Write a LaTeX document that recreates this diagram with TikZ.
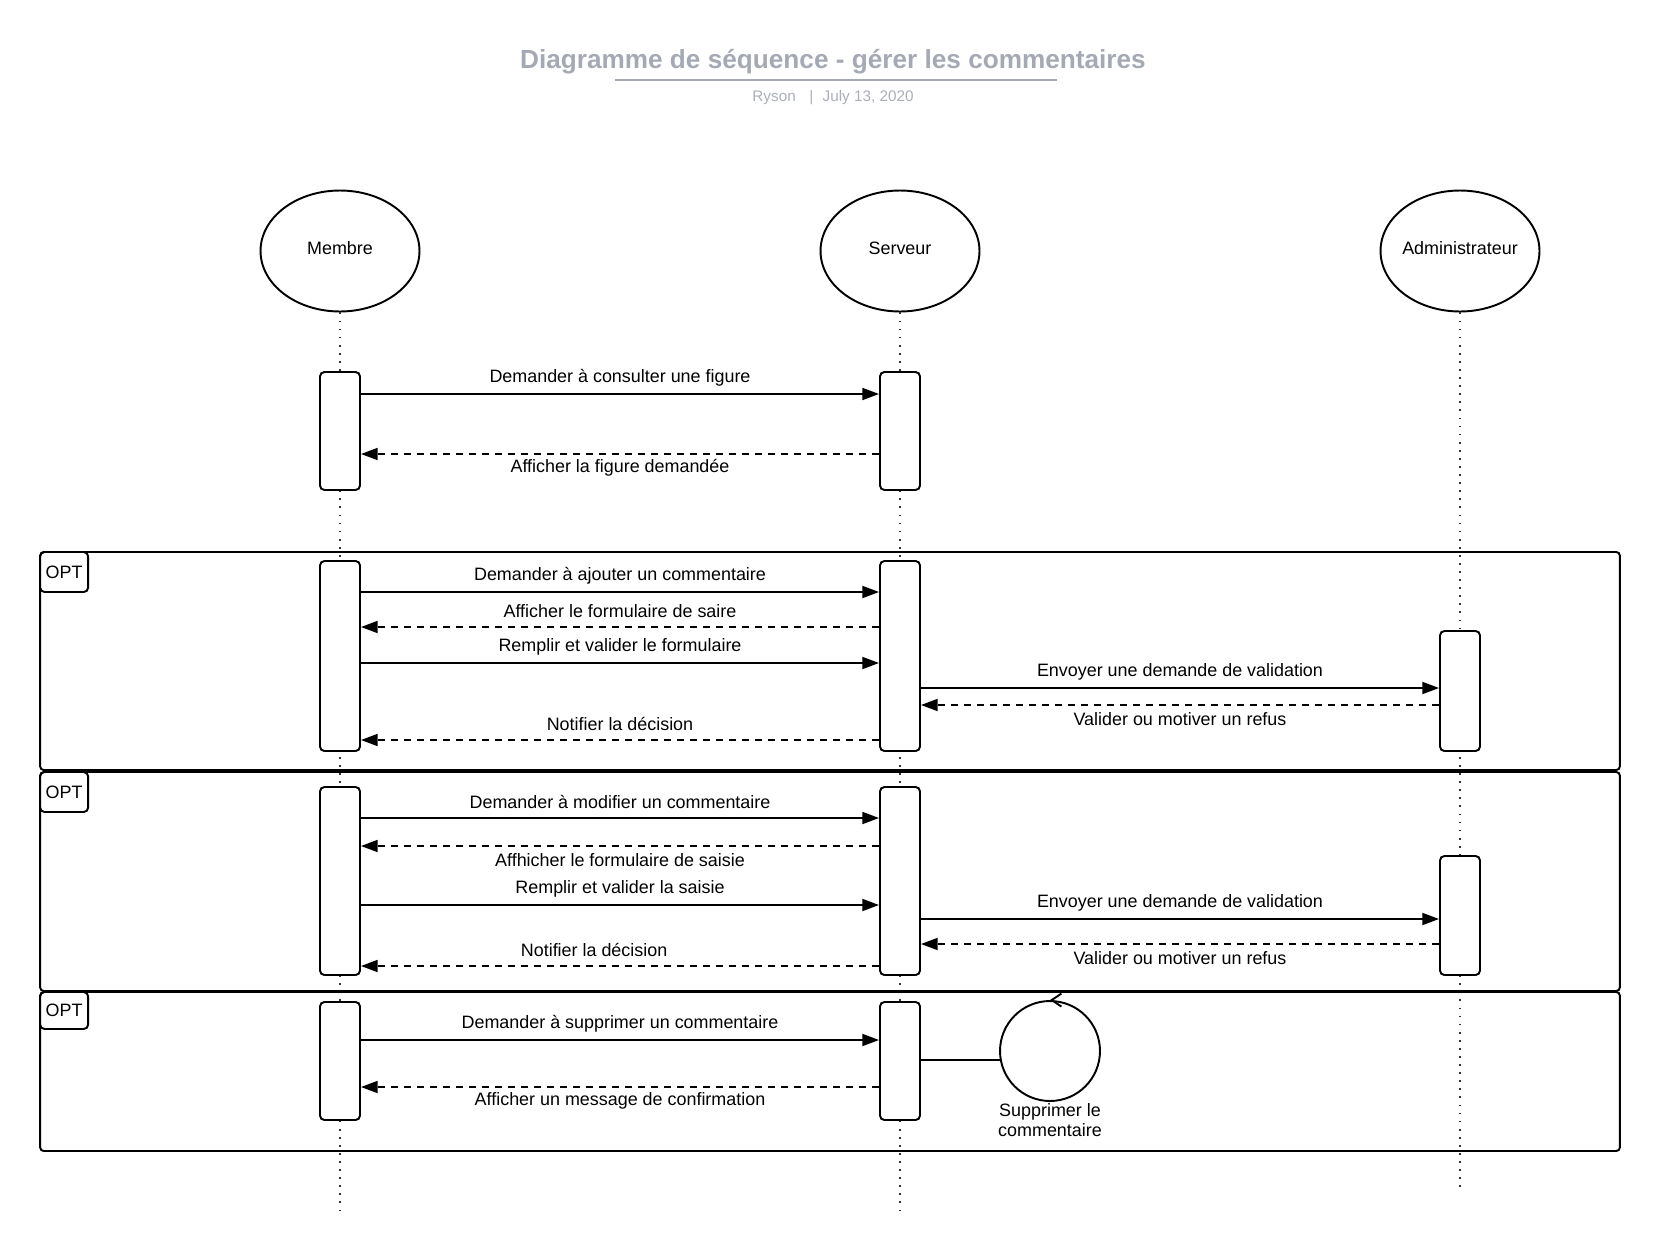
\documentclass[tikz,border=0pt]{standalone}
\usepackage{fontspec}
\setmainfont{Liberation Sans}
\usetikzlibrary{positioning, shapes.geometric, arrows.meta}
\definecolor{titregris}{RGB}{164,169,179}
\definecolor{sousgris}{RGB}{170,174,182}

\begin{document}
\begin{tikzpicture}[
    x=0.02cm, y=-0.02cm,
    acteur/.style={ellipse, draw, line width=1.1pt, minimum width=3.18cm,
                   minimum height=2.42cm, inner sep=0pt, inner xsep=-1pt,
                   text height=7.5pt, text depth=3.5pt,
                   font=\fontsize{10.2}{12.2}\selectfont},
    vie/.style={line width=1pt, black!80, dash pattern=on 1pt off 3.6pt},
    activ/.style={rectangle, draw, fill=white, rounded corners=2.5pt,
                  line width=1.1pt, minimum width=0.8cm, inner sep=0pt},
    msg/.style={line width=1.1pt, -{Triangle[length=9.5pt, width=6.8pt]}},
    retour/.style={msg, dash pattern=on 4pt off 3.4pt},
    lblh/.style={midway, yshift=9pt, font=\fontsize{10.2}{12.2}\selectfont},
    lblb/.style={midway, yshift=-8pt, font=\fontsize{10.2}{12.2}\selectfont},
    cadre/.style={rectangle, draw, rounded corners=2pt, line width=1.1pt,
                  minimum width=31.6cm, inner sep=0pt},
    etiq/.style={rectangle, draw, fill=white, rounded corners=2.5pt, line width=1.1pt,
                 minimum width=0.96cm, minimum height=0.8cm, anchor=north west,
                 inner sep=0pt, font=\fontsize{10.2}{12.2}\selectfont}
]
\useasboundingbox (0,0) rectangle (1660,1251);

% Titre
\node[text=titregris, font=\fontsize{14.9}{17}\selectfont\bfseries] (titre) at (833,62)
     {Diagramme de séquence - gérer les commentaires};
\draw[titregris, line width=1.1pt] (615,80) -- (1057,80);
\node[text=sousgris, font=\fontsize{8.7}{10}\selectfont] (auteur) at (833,98)
     {Ryson\hspace{0.9em}|\hspace{0.6em}July 13, 2020};

% Acteurs
\node[acteur] (membre) at (340,251) {Membre};
\node[acteur] (serveur) at (900,251) {Serveur};
\node[acteur] (admin) at (1460,251) {Administrateur};

% Lignes de vie
\coordinate (finM) at (340,1212);
\coordinate (finS) at (900,1212);
\coordinate (finA) at (1460,1191);
\draw[vie] (membre) -- (finM);
\draw[vie] (serveur) -- (finS);
\draw[vie] (admin) -- (finA);

% Cadres OPT
\node[cadre, minimum height=4.36cm] (opt1) at (830,661) {};
\node[cadre, minimum height=4.38cm] (opt2) at (830,881.5) {};
\node[cadre, minimum height=3.18cm] (opt3) at (830,1071.5) {};
\node[etiq] (tag1) at (opt1.north west) {OPT};
\node[etiq] (tag2) at (opt2.north west) {OPT};
\node[etiq, minimum height=0.74cm] (tag3) at (opt3.north west) {OPT};

% Activations
\node[activ, minimum height=2.36cm] (m1) at (340,431) {};
\node[activ, minimum height=2.36cm] (s1) at (900,431) {};
\node[activ, minimum height=3.8cm] (m2) at (340,656) {};
\node[activ, minimum height=3.8cm] (s2) at (900,656) {};
\node[activ, minimum height=2.4cm] (a2) at (1460,691) {};
\node[activ, minimum height=3.76cm] (m3) at (340,881) {};
\node[activ, minimum height=3.76cm] (s3) at (900,881) {};
\node[activ, minimum height=2.38cm] (a3) at (1460,915.5) {};
\node[activ, minimum height=2.36cm] (m4) at (340,1061) {};
\node[activ, minimum height=2.36cm] (s4) at (900,1061) {};

% Consulter
\draw[msg] (m1.east |- 0,394) -- node[lblh] {Demander à consulter une figure} (s1.west |- 0,394);
\draw[retour] (s1.west |- 0,454) -- node[lblb] {Afficher la figure demandée} (m1.east |- 0,454);

% Ajouter
\draw[msg] (m2.east |- 0,592) -- node[lblh] {Demander à ajouter un commentaire} (s2.west |- 0,592);
\draw[retour] (s2.west |- 0,627) -- node[lblh] {Afficher le formulaire de saire} (m2.east |- 0,627);
\draw[msg] (m2.east |- 0,663) -- node[lblh] {Remplir et valider le formulaire} (s2.west |- 0,663);
\draw[msg] (s2.east |- 0,688) -- node[lblh] {Envoyer une demande de validation} (a2.west |- 0,688);
\draw[retour] (a2.west |- 0,705) -- node[lblb] {Valider ou motiver un refus} (s2.east |- 0,705);
\draw[retour] (s2.west |- 0,740) -- node[lblh] {Notifier la décision} (m2.east |- 0,740);

% Modifier
\draw[msg] (m3.east |- 0,818) -- node[lblh] {Demander à modifier un commentaire} (s3.west |- 0,818);
\draw[retour] (s3.west |- 0,846) -- node[lblb] {Affhicher le formulaire de saisie} (m3.east |- 0,846);
\draw[msg] (m3.east |- 0,905) -- node[lblh] {Remplir et valider la saisie} (s3.west |- 0,905);
\draw[msg] (s3.east |- 0,919) -- node[lblh] {Envoyer une demande de validation} (a3.west |- 0,919);
\draw[retour] (a3.west |- 0,944) -- node[lblb] {Valider ou motiver un refus} (s3.east |- 0,944);
\draw[retour] (s3.west |- 0,966) -- node[lblh, pos=0.55] {Notifier la décision} (m3.east |- 0,966);

% Supprimer
\draw[msg] (m4.east |- 0,1040) -- node[lblh] {Demander à supprimer un commentaire} (s4.west |- 0,1040);
\draw[retour] (s4.west |- 0,1087) -- node[lblb] {Afficher un message de confirmation} (m4.east |- 0,1087);
\node[circle, draw, line width=1.1pt, minimum size=2cm, inner sep=0pt] (suppr) at (1050,1051) {};
\draw[line width=1.1pt] (s4.east |- suppr.190) -- (suppr.190);
\draw[line width=1.1pt, -{Straight Barb[length=5.5pt, width=7.4pt]}] ([xshift=1pt]suppr.north) -- (suppr.north);
\node[below=-2.7pt of suppr, align=center, font=\fontsize{10.2}{11.5}\selectfont] (supprlbl)
     {Supprimer le\\commentaire};

\end{tikzpicture}
\end{document}
